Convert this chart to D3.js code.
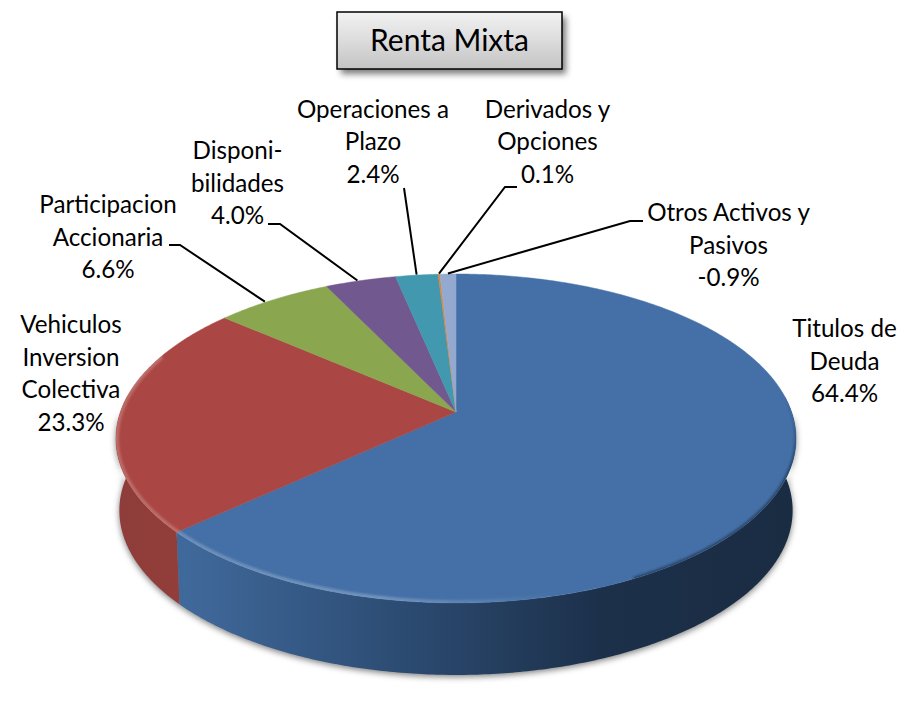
<!DOCTYPE html>
<html>
<head>
<meta charset="utf-8">
<script src="https://cdn.jsdelivr.net/npm/d3@7"></script>
<style>
    html, body { margin: 0; padding: 0; background: #fff; }
    svg { display: block; }
    text { font-family: Lato, "Open Sans", sans-serif; fill: #000; }
</style>
</head>
<body>
<div id="chart"></div>
<script>
// Data.
const title = 'Renta Mixta';
const categories = ['Titulos de Deuda', 'Vehiculos Inversion Colectiva', 'Participacion Accionaria',
    'Disponibilidades', 'Operaciones a Plazo', 'Derivados y Opciones', 'Otros Activos y Pasivos'];
const values = [64.4, 23.3, 6.6, 4.0, 2.4, 0.1, -0.9];
const labelLines = [
    ['Titulos de', 'Deuda', '64.4%'],
    ['Vehiculos', 'Inversion', 'Colectiva', '23.3%'],
    ['Participacion', 'Accionaria', '6.6%'],
    ['Disponi-', 'bilidades', '4.0%'],
    ['Operaciones a', 'Plazo', '2.4%'],
    ['Derivados y', 'Opciones', '0.1%'],
    ['Otros Activos y', 'Pasivos', '-0.9%']
];
const colors = ['#4470a7', '#aa4643', '#8aa64e', '#71588f', '#4198af', '#db843d', '#93a9cf'];

// Layout of the labels (centre x, first baseline) and of the leader lines.
const labelPos = [[844.5, 337], [71, 333], [108, 213], [237.5, 159], [373, 117.5], [547.5, 117.5], [728.5, 221]];
const lineHeight = 32.6;
const leaderElbows = [null, null, [[169, 245], [180, 245]], [[268, 224], [280, 224]], [[404, 188]], [[517, 187], [505, 187]], [[643, 221], [630, 221]]];
const leaderNudge = [0, 0, -0.03, -0.01, 0, 0, 0];

const width = 900, height = 721;
const apex = {x: 456, y: 412};
const persp = 0.161, radiusX = 335.6, radiusY = 160.2;
const depth = 72, lowerScale = 0.99;

// The pie lies on a tilted plane, so the circle goes through a perspective projection.
function project(angle, r = 1) {
    const u = r * Math.sin(angle), v = -r * Math.cos(angle);
    const s = 1 / (1 - persp * v);
    return [apex.x + radiusX * u * s, apex.y + radiusY * v * s];
}
function projectLower(angle) {
    const p = project(angle);
    return [apex.x + (p[0] - apex.x) * lowerScale, p[1] + depth];
}
function sampleAngles(a0, a1) {
    const n = Math.max(2, Math.ceil(Math.abs(a1 - a0) / 0.01));
    return d3.range(n + 1).map(i => a0 + (a1 - a0) * i / n);
}

const arcs = d3.pie().sort(null).value(d => Math.abs(d))(values);
const line = d3.line();

const svg = d3.select('#chart').append('svg')
    .attr('width', width)
    .attr('height', height)
    .attr('viewBox', `0 0 ${width} ${height}`);
const defs = svg.append('defs');

function addBlur(id, dev) {
    defs.append('filter').attr('id', id)
        .attr('x', '-10%').attr('y', '-20%').attr('width', '120%').attr('height', '140%')
        .append('feGaussianBlur').attr('stdDeviation', dev);
}
addBlur('shadowBlur', 3);
addBlur('rimBlur', 1.3);

function addGradient(id, attrs, stops, units) {
    const g = defs.append('linearGradient').attr('id', id);
    if (units) g.attr('gradientUnits', units);
    Object.entries(attrs).forEach(([k, v]) => g.attr(k, v));
    stops.forEach(s => g.append('stop').attr('offset', s[0]).attr('stop-color', s[1]).attr('stop-opacity', s[2] === undefined ? 1 : s[2]));
}
addGradient('titleFill', {x1: 0, y1: 0, x2: 0, y2: 1}, [[0, '#f2f2f2'], [0.5, '#dcdcdc'], [1, '#c3c3c3']]);
addGradient('sideBlue', {x1: 185, y1: 0, x2: 796, y2: 0}, [[0, '#40699b'], [0.3, '#2f5079'], [0.68, '#1c304a'], [1, '#1a2c42']], 'userSpaceOnUse');
addGradient('sideRed', {x1: 116, y1: 0, x2: 190, y2: 0}, [[0, '#8f3d3a'], [1, '#923e3b']], 'userSpaceOnUse');
addGradient('rimLight', {x1: 116, y1: 0, x2: 560, y2: 0}, [[0, '#fff', 0.2], [0.6, '#fff', 0.24], [1, '#fff', 0]], 'userSpaceOnUse');
addGradient('rimDark', {x1: 0, y1: 400, x2: 0, y2: 470}, [[0, '#1a2c42', 0], [1, '#1a2c42', 0.7]], 'userSpaceOnUse');

// Soft shadow under the body of the pie.
const outline = sampleAngles(Math.PI / 2, Math.PI * 1.5);
svg.append('path')
    .attr('d', line(outline.map(projectLower).concat(outline.slice().reverse().map(a => project(a)))) + 'Z')
    .attr('fill', '#555')
    .attr('opacity', 0.75)
    .attr('filter', 'url(#shadowBlur)')
    .attr('transform', 'translate(0,2)');

// Outer wall, only the front part of the two large slices can be seen.
arcs.slice(0, 2).forEach((d, i) => {
    const a0 = Math.max(d.startAngle, Math.PI / 2 - 0.1);
    const a1 = Math.min(d.endAngle, Math.PI * 1.5 + 0.1);
    const angles = sampleAngles(a0, a1);
    svg.append('path')
        .attr('d', line(angles.map(a => project(a)).concat(angles.slice().reverse().map(projectLower))) + 'Z')
        .attr('fill', i === 0 ? 'url(#sideBlue)' : 'url(#sideRed)');
});

// Top face.
const slicePath = d => line([[apex.x, apex.y]].concat(sampleAngles(d.startAngle, d.endAngle).map(a => project(a)))) + 'Z';
svg.append('g').selectAll('path')
    .data(arcs)
    .enter()
    .append('path')
        .attr('d', slicePath)
        .attr('fill', (d, i) => colors[i])
        .attr('stroke', (d, i) => colors[i])
        .attr('stroke-width', 0.5);

// Bevel along the front rim, kept inside the top face: light on the left, dark on the right.
const faceAngles = sampleAngles(0, Math.PI * 2);
defs.append('clipPath').attr('id', 'faceClip')
    .append('path').attr('d', line(faceAngles.map(a => project(a))) + 'Z');
const rimGroup = svg.append('g').attr('clip-path', 'url(#faceClip)');
rimGroup.append('path')
    .attr('d', line(sampleAngles(Math.PI * 0.8, Math.PI * 1.62).map(a => project(a))))
    .attr('fill', 'none')
    .attr('stroke', 'url(#rimLight)')
    .attr('stroke-width', 6)
    .attr('filter', 'url(#rimBlur)');
rimGroup.append('path')
    .attr('d', line(sampleAngles(Math.PI * 0.4, Math.PI * 0.85).map(a => project(a))))
    .attr('fill', 'none')
    .attr('stroke', 'url(#rimDark)')
    .attr('stroke-width', 3.5)
    .attr('filter', 'url(#rimBlur)');

// Leader lines from the label to the middle of the slice.
arcs.forEach((d, i) => {
    if (!leaderElbows[i]) return;
    const mid = (d.startAngle + d.endAngle) / 2 + leaderNudge[i];
    svg.append('path')
        .attr('d', line(leaderElbows[i].concat([project(mid, 1.005)])))
        .attr('fill', 'none')
        .attr('stroke', '#000')
        .attr('stroke-width', 2);
});

// Labels.
labelLines.forEach((lines, i) => {
    svg.append('text')
        .attr('text-anchor', 'middle')
        .attr('font-size', 24.2)
        .selectAll('tspan')
        .data(lines)
        .enter()
        .append('tspan')
            .attr('x', labelPos[i][0])
            .attr('y', (d, j) => labelPos[i][1] + j * lineHeight)
            .text(d => d);
});

// Title box.
const titleBox = {x: 337, y: 12, w: 225, h: 57};
svg.append('rect')
    .attr('x', titleBox.x + 4).attr('y', titleBox.y + 5)
    .attr('width', titleBox.w).attr('height', titleBox.h)
    .attr('fill', '#444').attr('opacity', 0.7)
    .attr('filter', 'url(#shadowBlur)');
svg.append('rect')
    .attr('x', titleBox.x).attr('y', titleBox.y)
    .attr('width', titleBox.w).attr('height', titleBox.h)
    .attr('fill', 'url(#titleFill)')
    .attr('stroke', '#000')
    .attr('stroke-width', 1.5);
svg.append('text')
    .attr('x', titleBox.x + titleBox.w / 2)
    .attr('y', 51)
    .attr('text-anchor', 'middle')
    .attr('font-size', 30)
    .text(title);
</script>
</body>
</html>
